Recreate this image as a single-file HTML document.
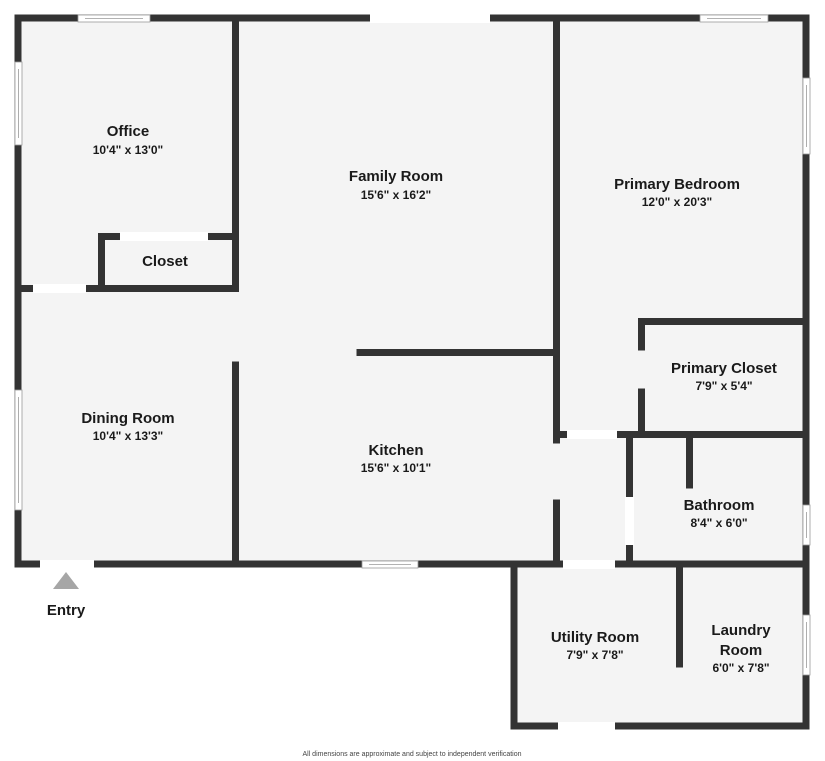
<!DOCTYPE html>
<html><head><meta charset="utf-8"><style>
html,body{margin:0;padding:0;background:#fff;}
svg{display:block;}
text{font-family:"Liberation Sans",sans-serif;fill:#1a1a1a;text-anchor:middle;}
.n{font-size:15px;font-weight:bold;}
.d{font-size:12px;font-weight:bold;}
</style></head><body>
<svg width="825" height="761" viewBox="0 0 825 761" xmlns="http://www.w3.org/2000/svg">
<polygon points="18,18 806,18 806,726 514,726 514,564 18,564" fill="#f4f4f4"/>
<g stroke="#333" stroke-width="7" stroke-linecap="square" fill="none">
<!-- outer -->
<line x1="18" y1="18" x2="806" y2="18"/>
<line x1="18" y1="18" x2="18" y2="564"/>
<line x1="806" y1="18" x2="806" y2="726"/>
<line x1="18" y1="564" x2="806" y2="564"/>
<line x1="514" y1="564" x2="514" y2="726"/>
<line x1="514" y1="726" x2="806" y2="726"/>
<!-- office / closet -->
<line x1="235.5" y1="18" x2="235.5" y2="288"/>
<line x1="101.5" y1="236.5" x2="235.5" y2="236.5"/>
<line x1="101.5" y1="236.5" x2="101.5" y2="288"/>
<line x1="18" y1="288.5" x2="235.5" y2="288.5"/>
<!-- dining/kitchen -->
<line x1="235.5" y1="365" x2="235.5" y2="564"/>
<line x1="360" y1="352.5" x2="556.5" y2="352.5"/>
<line x1="556.5" y1="18" x2="556.5" y2="440"/>
<line x1="556.5" y1="503" x2="556.5" y2="564"/>
<!-- primary closet -->
<line x1="641.5" y1="321.5" x2="806" y2="321.5"/>
<line x1="641.5" y1="321.5" x2="641.5" y2="347"/>
<line x1="641.5" y1="392" x2="641.5" y2="434"/>
<line x1="556.5" y1="434.5" x2="806" y2="434.5"/>
<!-- bath -->
<line x1="629.5" y1="434.5" x2="629.5" y2="564"/>
<line x1="689.5" y1="434.5" x2="689.5" y2="485"/>
<!-- laundry -->
<line x1="679.5" y1="564" x2="679.5" y2="664"/>
</g>
<!-- door gaps (white) -->
<g fill="#fff">
<rect x="370" y="14" width="120" height="9"/>
<rect x="120" y="232" width="88" height="9"/>
<rect x="33" y="284" width="53" height="9"/>
<rect x="40" y="560" width="54" height="9"/>
<rect x="567" y="430" width="50" height="9"/>
<rect x="625" y="497" width="9" height="48"/>
<rect x="563" y="560" width="52" height="9"/>
<rect x="558" y="722" width="57" height="9"/>
</g>
<!-- windows -->
<g fill="#fff" stroke="#999" stroke-width="0.8">
<rect x="78" y="15" width="72" height="7"/>
<rect x="700" y="15" width="68" height="7"/>
<rect x="15" y="62" width="7" height="83"/>
<rect x="15" y="390" width="7" height="120"/>
<rect x="803" y="78" width="7" height="76"/>
<rect x="803" y="505" width="7" height="40"/>
<rect x="803" y="615" width="7" height="60"/>
<rect x="362" y="561" width="56" height="7"/>
</g>
<g stroke="#999" stroke-width="0.8">
<line x1="85" y1="18.5" x2="143" y2="18.5"/>
<line x1="707" y1="18.5" x2="761" y2="18.5"/>
<line x1="18.5" y1="69" x2="18.5" y2="138"/>
<line x1="18.5" y1="397" x2="18.5" y2="503"/>
<line x1="806.5" y1="85" x2="806.5" y2="147"/>
<line x1="806.5" y1="512" x2="806.5" y2="538"/>
<line x1="806.5" y1="622" x2="806.5" y2="668"/>
<line x1="369" y1="564.5" x2="411" y2="564.5"/>
</g>
<polygon points="53,589 79,589 66,572" fill="#a6a6a6"/>
<text class="n" x="66" y="615">Entry</text>
<text class="n" x="128" y="136">Office</text>
<text class="d" x="128" y="154">10'4" x 13'0"</text>
<text class="n" x="165" y="266">Closet</text>
<text class="n" x="396" y="181">Family Room</text>
<text class="d" x="396" y="199">15'6" x 16'2"</text>
<text class="n" x="677" y="189">Primary Bedroom</text>
<text class="d" x="677" y="206">12'0" x 20'3"</text>
<text class="n" x="724" y="373">Primary Closet</text>
<text class="d" x="724" y="390">7'9" x 5'4"</text>
<text class="n" x="128" y="423">Dining Room</text>
<text class="d" x="128" y="440">10'4" x 13'3"</text>
<text class="n" x="396" y="455">Kitchen</text>
<text class="d" x="396" y="472">15'6" x 10'1"</text>
<text class="n" x="719" y="510">Bathroom</text>
<text class="d" x="719" y="527">8'4" x 6'0"</text>
<text class="n" x="595" y="642">Utility Room</text>
<text class="d" x="595" y="659">7'9" x 7'8"</text>
<text class="n" x="741" y="635">Laundry</text>
<text class="n" x="741" y="655">Room</text>
<text class="d" x="741" y="672">6'0" x 7'8"</text>
<text x="412" y="756" style="font-size:7px;fill:#444">All dimensions are approximate and subject to independent verification</text>
</svg>
</body></html>
